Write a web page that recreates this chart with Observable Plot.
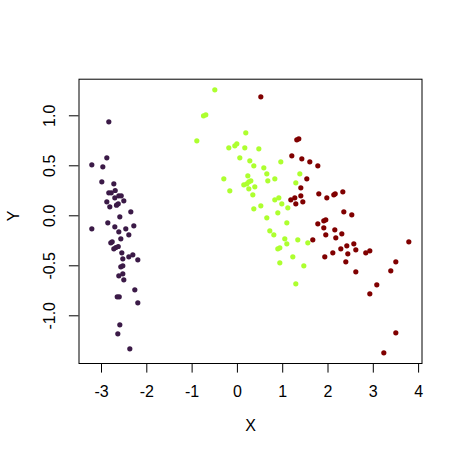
<!DOCTYPE html>
<html>
<head>
<meta charset="utf-8">
<script src="https://cdn.jsdelivr.net/npm/d3@7"></script>
<script src="https://cdn.jsdelivr.net/npm/@observablehq/plot@0.6"></script>
<style>
  html, body { margin: 0; padding: 0; background: #fff; }
  svg { display: block; }
</style>
</head>
<body>
<div id="chart"></div>
<script>
// Group 1 (left cluster, dark purple)
const g1x = [-2.839,-2.883,-3.214,-2.971,-2.993,-2.728,-2.839,-2.786,-2.698,-2.706,-2.618,-2.565,-2.508,-2.883,-2.817,-2.669,-2.631,-2.353,-2.596,-3.214,-2.861,-2.706,-2.464,-2.287,-2.618,-2.397,-2.574,-2.795,-2.764,-2.728,-2.684,-2.631,-2.552,-2.530,-2.397,-2.309,-2.199,-2.574,-2.530,-2.618,-2.530,-2.508,-2.265,-2.653,-2.609,-2.199,-2.596,-2.640,-2.375];
const g1y = [0.94,0.58,0.51,0.49,0.34,0.32,0.23,0.23,0.253,0.18,0.20,0.20,0.15,0.14,0.09,0.106,0.12,0.04,-0.01,-0.13,-0.07,-0.11,-0.13,-0.10,-0.16,-0.19,-0.23,-0.27,-0.26,-0.33,-0.317,-0.307,-0.37,-0.43,-0.41,-0.39,-0.44,-0.51,-0.50,-0.60,-0.58,-0.64,-0.74,-0.81,-0.81,-0.87,-1.09,-1.18,-1.33];

// Group 2 (middle cluster, yellow-green)
const g2x = [-0.499,-0.748,-0.698,0.185,-0.896,-0.190,-0.057,-0.013,0.163,0.473,0.053,0.274,0.958,0.362,0.583,0.649,1.378,0.230,-0.300,0.826,0.296,0.671,0.141,0.208,0.252,1.289,0.384,-0.168,0.252,0.340,0.826,0.914,0.980,1.113,0.362,0.517,0.892,0.649,1.091,0.715,0.804,1.046,1.333,1.554,1.091,0.892,0.936,1.223,0.936,1.466,1.289];
const g2y = [1.26,1.00,1.01,0.83,0.75,0.68,0.70,0.72,0.68,0.67,0.58,0.55,0.54,0.50,0.48,0.42,0.42,0.40,0.37,0.37,0.35,0.35,0.31,0.32,0.34,0.33,0.29,0.25,0.27,0.21,0.16,0.18,0.12,0.08,0.07,0.10,0.03,-0.02,-0.07,-0.15,-0.19,-0.23,-0.24,-0.27,-0.28,-0.33,-0.32,-0.41,-0.47,-0.50,-0.68];

// Group 3 (right cluster, dark red)
const g3x = [0.517,1.311,1.355,1.201,1.422,1.598,1.532,1.400,1.400,1.267,1.179,1.289,1.444,1.775,1.797,1.974,2.128,2.159,2.327,2.349,2.525,1.775,1.907,1.951,1.907,2.150,1.951,2.305,2.172,1.664,3.784,2.415,2.570,2.283,2.614,2.106,2.437,2.834,2.923,1.929,2.393,3.497,2.614,3.386,3.077,2.923,3.497,3.232];
const g3y = [1.19,0.76,0.77,0.60,0.57,0.54,0.37,0.28,0.20,0.18,0.16,0.12,0.14,0.50,0.22,0.18,0.21,0.22,0.24,0.04,0.01,-0.08,-0.05,-0.04,-0.12,-0.14,-0.19,-0.18,-0.22,-0.24,-0.26,-0.30,-0.28,-0.33,-0.34,-0.37,-0.38,-0.37,-0.35,-0.41,-0.46,-0.46,-0.56,-0.55,-0.69,-0.78,-1.17,-1.37];

const groups = ["g1", "g2", "g3"];
const groupColors = ["#3b1a47", "#adff2f", "#800000"];
const xTicks = [-3, -2, -1, 0, 1, 2, 3, 4];
const yTicks = [-1.0, -0.5, 0.0, 0.5, 1.0];
const xLabel = "X";
const yLabel = "Y";

const data = [
  ...g1x.map((x, i) => ({x, y: g1y[i], g: "g1"})),
  ...g2x.map((x, i) => ({x, y: g2y[i], g: "g2"})),
  ...g3x.map((x, i) => ({x, y: g3y[i], g: "g3"}))
];

const font = "Liberation Sans, Arial, Helvetica, sans-serif";

const chart = Plot.plot({
  width: 462,
  height: 461,
  marginLeft: 78.5,
  marginRight: 40.5,
  marginTop: 78.7,
  marginBottom: 98,
  style: {fontFamily: font, fontSize: "16px", color: "#000", background: "#fff"},
  x: {domain: [-3.497, 4.075]},
  y: {domain: [-1.477, 1.366]},
  color: {domain: groups, range: groupColors},
  marks: [
    Plot.frame({stroke: "#000", strokeWidth: 1}),
    Plot.axisX({ticks: xTicks, tickSize: 9.6, tickPadding: 13, fontSize: 16, label: null, tickFormat: d => String(d), stroke: "#000"}),
    Plot.axisY({ticks: yTicks, tickSize: 9.6, tickPadding: 14, fontSize: 16, label: null, tickRotate: -90, tickFormat: d => d.toFixed(1), stroke: "#000"}),
    Plot.text([xLabel], {text: d => d, frameAnchor: "bottom", dy: 67.7, fontSize: 16, fill: "#000"}),
    Plot.text([yLabel], {text: d => d, frameAnchor: "left", dx: -65, rotate: -90, fontSize: 16, fill: "#000"}),
    Plot.dot(data, {x: "x", y: "y", fill: "g", r: 2.6, stroke: "none"})
  ]
});
document.getElementById("chart").appendChild(chart);
</script>
</body>
</html>
